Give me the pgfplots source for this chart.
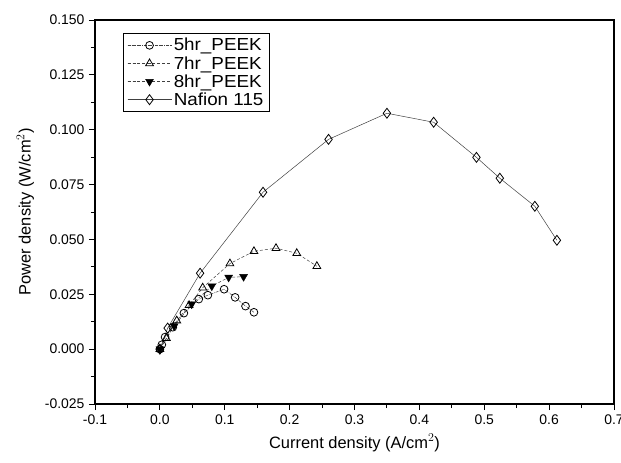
\documentclass[border=0pt]{standalone}
\usepackage{fontspec}
\setmainfont{Liberation Sans}
\newfontfamily\legfont{Liberation Sans}[FakeStretch=1.08]
\usepackage{pgfplots}
\pgfplotsset{compat=1.18}
\begin{document}
\begin{tikzpicture}
\path[use as bounding box] (-95bp,-59bp) rectangle (526bp,404bp);
\begin{axis}[
  scale only axis, width=519bp, height=384bp,
  at={(0,0)}, anchor=south west,
  xmin=-0.1, xmax=0.7, ymin=-0.025, ymax=0.150,
  xtick={-0.1,0,0.1,0.2,0.3,0.4,0.5,0.6,0.7},
  ytick={-0.025,0,0.025,0.05,0.075,0.1,0.125,0.15},
  minor x tick num=1, minor y tick num=1,
  xticklabel style={yshift=-1bp, /pgf/number format/.cd,fixed,fixed zerofill,precision=1},
  yticklabel style={xshift=-1bp, /pgf/number format/.cd,fixed,fixed zerofill,precision=3},
  /pgf/number format/assume math mode=true,
  scaled ticks=false,
  tick align=outside, xtick pos=bottom, ytick pos=left,
  major tick length=6bp, minor tick length=4bp,
  axis line style={line width=1.2pt},
  tick style={line width=0.9pt, black},
  tick label style={font=\fontsize{14}{15}\selectfont},
  label style={font=\fontsize{16.5}{18}\selectfont},
  xlabel={Current density (A/cm$^2$)},
  ylabel={Power density (W/cm$^2$)},
  xlabel style={yshift=-3bp},
  ylabel style={yshift=4bp},
  legend style={at={(28bp,371bp)}, anchor=north west, draw=black, line width=0.6pt,
    font=\legfont\fontsize{17.5}{19}\selectfont, row sep=0pt, inner xsep=4pt, inner ysep=3pt,
    nodes={inner xsep=2pt}},
  legend cell align=left,
  legend image code/.code={\draw[#1] (0bp,0bp) -- (44bp,0bp); \draw[#1, mark repeat=2, mark phase=2] plot coordinates {(0bp,0bp) (22bp,0bp) (44bp,0bp)};},
  every axis plot/.append style={line width=0.5pt, black!75},
]
\addplot[mark=o, mark size=3.9pt, mark options={draw=black, line width=0.8pt, fill=white, solid}, densely dashdotted] coordinates {
(0,0) (0.003,0.002) (0.008,0.0055) (0.020,0.010) (0.037,0.0164) (0.060,0.0228) (0.074,0.0246) (0.099,0.0273) (0.116,0.0236) (0.132,0.0196) (0.145,0.0168)};
\addlegendentry{5hr\_PEEK}
\addplot[mark=triangle, mark size=4.5pt, mark options={draw=black, line width=0.8pt, fill=white, solid}, densely dashed] coordinates {
(0,0) (0.010,0.005) (0.026,0.013) (0.045,0.020) (0.066,0.028) (0.108,0.039) (0.145,0.0446) (0.179,0.046) (0.211,0.0437) (0.242,0.0378)};
\addlegendentry{7hr\_PEEK}
\addplot[mark=triangle*, mark size=4.5pt, mark options={draw=black, fill=black, rotate=180, solid}, densely dashed] coordinates {
(0,0) (0.022,0.0105) (0.049,0.0205) (0.080,0.0287) (0.106,0.0327) (0.129,0.033)};
\addlegendentry{8hr\_PEEK}
\addplot[mark=diamond, mark size=5pt, mark options={draw=black, line width=0.8pt, fill=white, solid}] coordinates {
(0,0) (0.012,0.0096) (0.062,0.0346) (0.159,0.0715) (0.260,0.0956) (0.350,0.1075) (0.422,0.1034) (0.488,0.0874) (0.524,0.0779) (0.578,0.0651) (0.612,0.0496)};
\addlegendentry{Nafion 115}
\end{axis}
\end{tikzpicture}
\end{document}
